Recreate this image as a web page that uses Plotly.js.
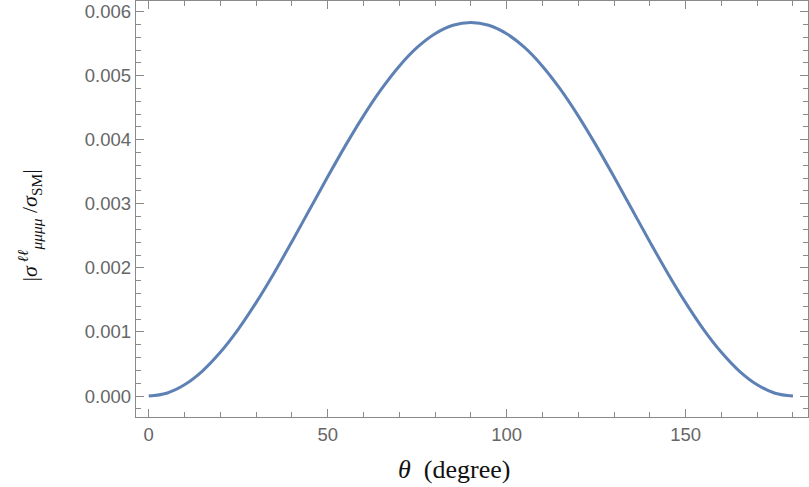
<!DOCTYPE html>
<html>
<head>
<meta charset="utf-8">
<script src="https://cdn.plot.ly/plotly-3.0.1.min.js"></script>
<style>html,body{margin:0;padding:0;background:#fff;}#chart{width:809px;height:487px;}</style>
</head>
<body>
<div id="chart"></div>
<script>
// theta in degrees
const theta = [0,5,10,15,20,25,30,35,40,45,50,55,60,65,70,75,80,85,90,
  95,100,105,110,115,120,125,130,135,140,145,150,155,160,165,170,175,180];
// |sigma / sigma_SM|
const ratio = [0.000000,0.000044,0.000176,0.000390,0.000682,0.001041,0.001458,0.001918,0.002409,0.002915,
  0.003421,0.003912,0.004373,0.004789,0.005148,0.005440,0.005654,0.005786,0.005830,
  0.005786,0.005654,0.005440,0.005148,0.004789,0.004373,0.003912,0.003421,0.002915,0.002409,
  0.001918,0.001458,0.001041,0.000682,0.000390,0.000176,0.000044,0.000000];
const yTickVals = [0,0.001,0.002,0.003,0.004,0.005,0.006];
const yTickText = ["0.000","0.001","0.002","0.003","0.004","0.005","0.006"];
const xTickVals = [0,50,100,150];
const xTickText = ["0","50","100","150"];
const xTitle = '<i>θ</i>  (degree)';
const yTitle = '|<i>σ</i><sup> <i>ℓℓ</i></sup><sub><i>μμμμ</i></sub> /<i>σ</i><sub>SM</sub>|';

const axisColor = '#8a8a8a';
const tickFont = {family:'Liberation Sans, Arial, sans-serif', size:18.5, color:'#666666'};
const titleFont = {family:'Liberation Serif, DejaVu Serif, serif', size:26, color:'#111'};

const trace = {
  x: theta, y: ratio, type:'scatter', mode:'lines',
  line:{color:'#5E81B5', width:3, shape:'spline', smoothing:1},
  hoverinfo:'skip'
};

const layout = {
  width:809, height:487,
  margin:{l:136, r:1, t:1, b:70},
  paper_bgcolor:'#fff', plot_bgcolor:'#fff',
  showlegend:false,
  xaxis:{
    range:[-3.55, 184.2],
    tickmode:'array', tickvals:xTickVals, ticktext:xTickText,
    ticks:'inside', ticklen:8, tickwidth:1, tickcolor:axisColor,
    minor:{dtick:10, tick0:0, ticks:'inside', ticklen:5, tickwidth:1, tickcolor:axisColor, showgrid:false},
    showline:true, linecolor:axisColor, linewidth:1.3, mirror:'allticks',
    showgrid:false, zeroline:false,
    tickfont:tickFont
  },
  yaxis:{
    range:[-0.000327, 0.006165],
    tickmode:'array', tickvals:yTickVals, ticktext:yTickText,
    ticks:'inside', ticklen:8, tickwidth:1, tickcolor:axisColor,
    minor:{dtick:0.0002, tick0:0, ticks:'inside', ticklen:5, tickwidth:1, tickcolor:axisColor, showgrid:false},
    showline:true, linecolor:axisColor, linewidth:1.3, mirror:'allticks',
    showgrid:false, zeroline:false,
    tickfont:tickFont
  },
  annotations:[
    {text:xTitle, xref:'paper', yref:'paper', x:0.473, y:-0.125, xanchor:'center', yanchor:'middle',
     showarrow:false, font:titleFont},
    {text:yTitle, xref:'paper', yref:'paper', x:-0.158, y:0.46, xanchor:'center', yanchor:'middle',
     textangle:-90, showarrow:false, font:{family:titleFont.family, size:22, color:'#111'}}
  ]
};

Plotly.newPlot('chart', [trace], layout, {displayModeBar:false, staticPlot:true});
</script>
</body>
</html>
